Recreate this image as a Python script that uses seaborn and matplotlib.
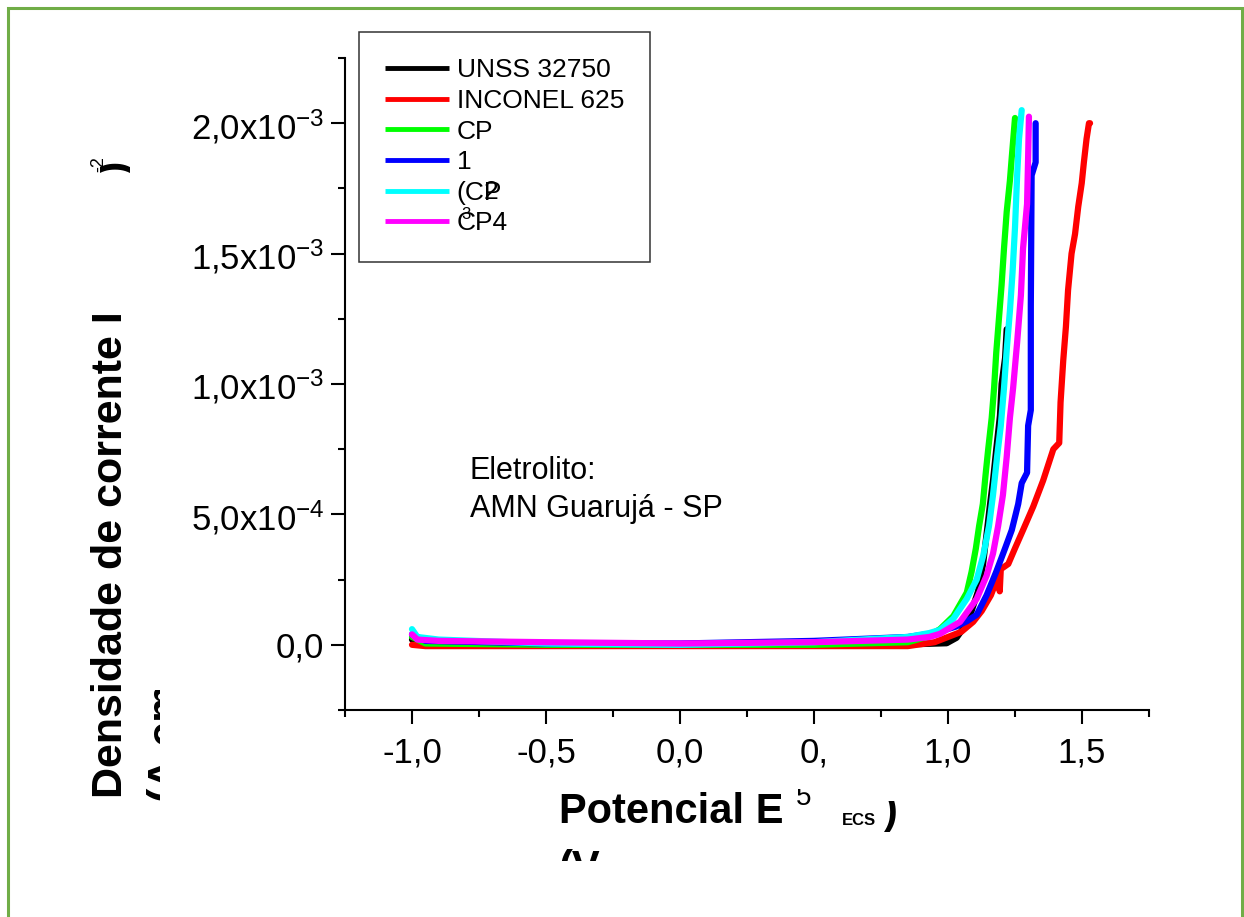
import pandas as pd
import seaborn as sns
import matplotlib.pyplot as plt
from matplotlib.patches import Rectangle
from matplotlib.lines import Line2D
from matplotlib.transforms import Bbox
from matplotlib.ticker import MultipleLocator, FixedLocator

# potencial E (V vs ECS) e densidade de corrente (x1e-3 A/cm2)
unss_E = [-1.0, -0.95, -0.5, 0.0, 0.5, 0.9, 0.995, 1.032, 1.063, 1.088, 1.112, 1.131,
          1.144, 1.157, 1.168, 1.18, 1.194, 1.20, 1.213, 1.219]
unss_i = [0.02, 0.0, 0.0, 0.0, 0.0, 0.003, 0.006, 0.027, 0.072, 0.13, 0.205, 0.31,
          0.425, 0.54, 0.63, 0.75, 0.88, 1.00, 1.10, 1.21]

inconel_E = [-1.0, -0.95, -0.5, 0.0, 0.5, 0.85, 0.95, 1.05, 1.094, 1.126, 1.16, 1.19,
             1.193, 1.197, 1.225, 1.25, 1.28, 1.318, 1.355, 1.393, 1.415, 1.42, 1.43,
             1.44, 1.448, 1.461, 1.474, 1.486, 1.499, 1.507, 1.517, 1.526, 1.53]
inconel_i = [0.0, -0.005, -0.005, -0.005, -0.005, -0.005, 0.01, 0.05, 0.088, 0.13, 0.19,
             0.27, 0.205, 0.29, 0.31, 0.37, 0.44, 0.53, 0.63, 0.75, 0.774, 0.93, 1.09,
             1.22, 1.36, 1.50, 1.575, 1.68, 1.77, 1.85, 1.94, 2.00, 2.00]

cp1_E = [-1.0, -0.95, -0.5, 0.0, 0.5, 0.85, 0.92, 0.97, 1.02, 1.07, 1.088, 1.104, 1.116,
         1.13, 1.14, 1.15, 1.163, 1.172, 1.18, 1.19, 1.20, 1.209, 1.219, 1.231, 1.238, 1.25]
cp1_i = [0.03, 0.005, 0.0, 0.0, 0.0, 0.01, 0.03, 0.06, 0.11, 0.20, 0.28, 0.37, 0.455,
         0.54, 0.65, 0.75, 0.87, 0.985, 1.12, 1.25, 1.38, 1.52, 1.66, 1.78, 1.87, 2.02]

cp2_E = [-1.0, -0.95, -0.5, 0.0, 0.5, 0.85, 0.95, 1.03, 1.07, 1.107, 1.144, 1.18, 1.213,
         1.238, 1.262, 1.275, 1.295, 1.299, 1.309, 1.309, 1.312, 1.327, 1.327]
cp2_i = [0.04, 0.015, 0.005, 0.005, 0.015, 0.03, 0.045, 0.07, 0.09, 0.115, 0.19, 0.28,
         0.37, 0.44, 0.54, 0.62, 0.66, 0.84, 0.90, 1.30, 1.80, 1.85, 2.0]

cp3_E = [-1.0, -0.98, -0.9, -0.5, 0.0, 0.5, 0.85, 0.93, 0.97, 1.02, 1.07, 1.107, 1.131,
         1.153, 1.168, 1.183, 1.197, 1.209, 1.219, 1.231, 1.241, 1.25, 1.258, 1.265, 1.275]
cp3_i = [0.06, 0.03, 0.02, 0.005, 0.0, 0.01, 0.03, 0.045, 0.057, 0.10, 0.176, 0.25, 0.34,
         0.455, 0.575, 0.72, 0.84, 0.985, 1.13, 1.28, 1.43, 1.60, 1.80, 1.94, 2.05]

cp4_E = [-1.0, -0.98, -0.9, -0.5, 0.0, 0.5, 0.85, 0.93, 0.97, 1.045, 1.107, 1.144, 1.168,
         1.187, 1.205, 1.219, 1.231, 1.243, 1.258, 1.272, 1.28, 1.295, 1.299, 1.302]
cp4_i = [0.04, 0.02, 0.015, 0.01, 0.005, 0.01, 0.02, 0.03, 0.042, 0.088, 0.176, 0.265,
         0.35, 0.455, 0.575, 0.72, 0.87, 0.985, 1.16, 1.34, 1.52, 1.69, 1.87, 2.025]

amostras = ['UNSS 32750', 'INCONEL 625', 'CP1', 'CP2', 'CP3', 'CP4']
cores = ['#000000', '#ff0000', '#00ff00', '#0000ff', '#00ffff', '#ff00ff']
leg_labels = ['UNSS 32750', 'INCONEL 625', 'CP', '1', '(CP', 'CP4']

xticks = [-1.0, -0.5, 0.0, 0.5, 1.0, 1.5]
xticklabels = ['-1,0', '-0,5', '0,0', '0,', '1,0', '1,5']
yticks = [0.0, 0.5e-3, 1.0e-3, 1.5e-3, 2.0e-3]
yticklabels = ['0,0', r'5,0x10$^{-4}$', r'1,0x10$^{-3}$', r'1,5x10$^{-3}$', r'2,0x10$^{-3}$']

curvas = [(unss_E, unss_i), (inconel_E, inconel_i), (cp1_E, cp1_i),
          (cp2_E, cp2_i), (cp3_E, cp3_i), (cp4_E, cp4_i)]
frames = []
for nome, (E, i) in zip(amostras, curvas):
    frames.append(pd.DataFrame({'E': E, 'i': [v * 1e-3 for v in i], 'amostra': nome}))
df = pd.concat(frames, ignore_index=True)

sns.set_style('ticks')
plt.rcParams['font.family'] = ['Liberation Sans', 'DejaVu Sans']
plt.rcParams['mathtext.default'] = 'regular'
for k in ['text.color', 'axes.labelcolor', 'xtick.color', 'ytick.color', 'axes.edgecolor']:
    plt.rcParams[k] = 'black'

W, H = 1244, 917
fig = plt.figure(figsize=(W / 100, H / 100), dpi=100)
ax = fig.add_axes([345 / W, 1 - 710 / H, (1149 - 345) / W, (710 - 58) / H])


def fp(x, y):
    # pixel da imagem -> fracao da figura
    return x / W, 1 - y / H


sns.lineplot(data=df, x='E', y='i', hue='amostra', hue_order=amostras,
             palette=dict(zip(amostras, cores)), estimator=None, sort=False,
             lw=4.5, legend=False, ax=ax)

ax.set_xlim(-1.25, 1.75)
ax.set_ylim(-0.25e-3, 2.25e-3)
ax.xaxis.set_major_locator(FixedLocator(xticks))
ax.set_xticklabels(xticklabels)
ax.xaxis.set_minor_locator(MultipleLocator(0.25))
ax.yaxis.set_major_locator(FixedLocator(yticks))
ax.set_yticklabels(yticklabels)
ax.yaxis.set_minor_locator(MultipleLocator(0.25e-3))
ax.tick_params(which='major', length=10, width=1.5, direction='out', labelsize=25)
ax.tick_params(which='minor', length=5, width=1.5, direction='out')
ax.tick_params(axis='x', which='major', pad=9)
ax.tick_params(axis='y', which='major', pad=5)
ax.set_xlabel('')
ax.set_ylabel('')
sns.despine(ax=ax)
for s in ['left', 'bottom']:
    ax.spines[s].set_linewidth(1.5)

handles = [Line2D([], [], color=c, lw=3.5, solid_capstyle='butt') for c in cores]
leg = ax.legend(handles, leg_labels, loc='upper left', bbox_to_anchor=fp(359, 32),
                bbox_transform=fig.transFigure, borderaxespad=0, borderpad=1.0,
                handlelength=2.4, handletextpad=0.3, labelspacing=0.25, fontsize=19,
                fancybox=False, framealpha=1, edgecolor='#333333')
leg.get_frame().set_linewidth(1.1)
fig.text(*fp(484, 199), '2', fontsize=19, va='baseline', ha='left')
fig.text(*fp(461, 219), '3', fontsize=12, va='baseline', ha='left')

# anotacao
fig.text(*fp(470, 479), 'Eletrolito:', fontsize=22, va='baseline', ha='left')
fig.text(*fp(470, 517), 'AMN Guarujá - SP', fontsize=22, va='baseline', ha='left')


def clip(t, x0, y0, x1, y1):
    # recorta o texto numa caixa em pixels da imagem
    t.set_clip_box(Bbox([[x0, H - y1], [x1, H - y0]]))
    t.set_clip_on(True)


# rotulo do eixo x (quebrado como no original)
fig.text(*fp(559, 823), 'Potencial E', fontsize=30, fontweight='bold', va='baseline', ha='left')
t = fig.text(*fp(796, 805), '5', fontsize=20, va='baseline', ha='left')
clip(t, 780, 789, 830, 830)
fig.text(*fp(842, 825), 'ECS', fontsize=12, fontweight='bold', va='baseline', ha='left')
t = fig.text(*fp(884, 823), ')', fontsize=30, fontweight='bold', va='baseline', ha='left')
clip(t, 870, 801, 910, 840)
t = fig.text(*fp(559, 880), '(V', fontsize=30, fontweight='bold', va='baseline', ha='left')
clip(t, 540, 840, 620, 861)

# rotulo do eixo y
fig.text(*fp(122, 798), 'Densidade de corrente I', fontsize=31, fontweight='bold',
         rotation=90, rotation_mode='anchor', va='baseline', ha='left')
t = fig.text(*fp(176, 800), '(A.cm', fontsize=31, fontweight='bold',
             rotation=90, rotation_mode='anchor', va='baseline', ha='left')
clip(t, 130, 690, 160, 810)
t = fig.text(*fp(127, 175), ')', fontsize=31, fontweight='bold',
             rotation=90, rotation_mode='anchor', va='baseline', ha='left')
clip(t, 100, 140, 130, 180)
fig.text(*fp(103, 172), '-2', fontsize=13, rotation=90, rotation_mode='anchor',
         va='baseline', ha='left')

# moldura verde
fig.patches.append(Rectangle(fp(8, 1000), (1242 - 8) / W, (1000 - 7.5) / H,
                             transform=fig.transFigure, fill=False,
                             edgecolor='#70ad47', lw=2.2))

fig.savefig('out.png', dpi=100)
